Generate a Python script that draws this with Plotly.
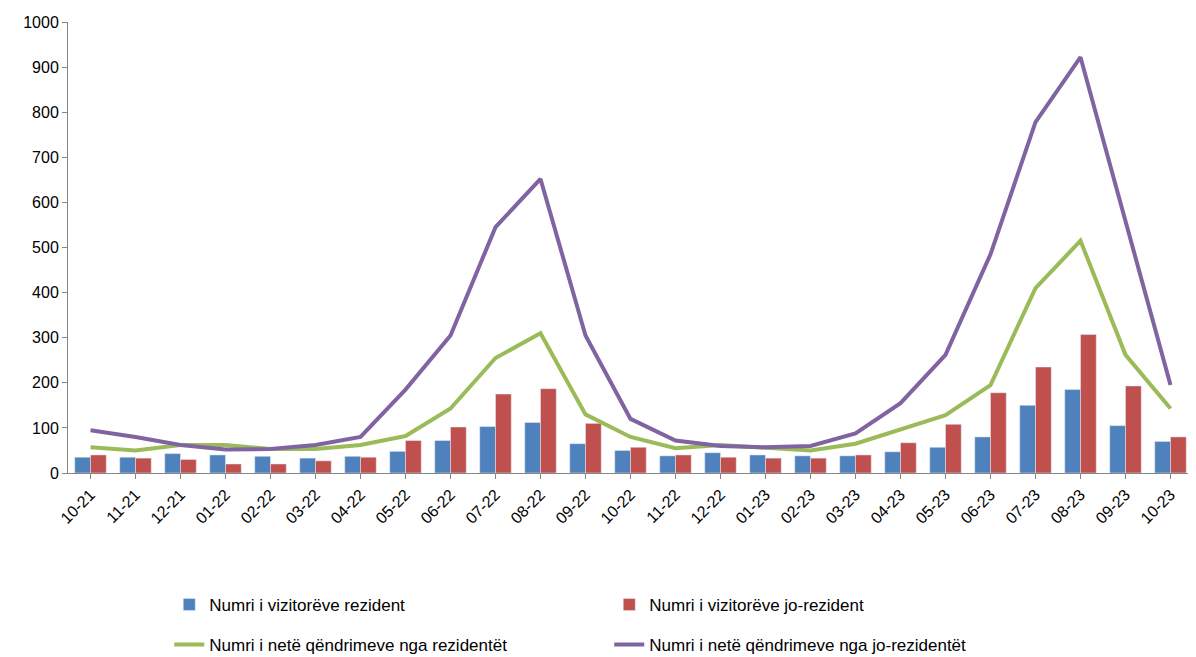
import plotly.graph_objects as go

months = ["10-21", "11-21", "12-21", "01-22", "02-22", "03-22", "04-22", "05-22", "06-22",
          "07-22", "08-22", "09-22", "10-22", "11-22", "12-22", "01-23", "02-23", "03-23",
          "04-23", "05-23", "06-23", "07-23", "08-23", "09-23", "10-23"]
vizitore_rezident = [35, 35, 43, 40, 37, 33, 37, 48, 72, 103, 112, 65, 50, 38, 45, 40, 38, 38,
                     47, 57, 80, 150, 185, 105, 70]
vizitore_jorezident = [40, 33, 30, 20, 20, 27, 35, 72, 102, 175, 187, 110, 57, 40, 35, 33, 33, 40,
                       67, 108, 178, 235, 307, 193, 80]
net_rezident = [57, 50, 62, 62, 53, 53, 62, 82, 143, 255, 310, 130, 80, 55, 62, 57, 50, 65,
                97, 128, 195, 410, 515, 262, 143]
net_jorezident = [95, 80, 62, 52, 53, 62, 80, 185, 305, 545, 652, 305, 120, 72, 60, 57, 60, 88,
                  155, 262, 485, 778, 922, 555, 195]

fig = go.Figure()
fig.add_trace(go.Bar(x=months, y=vizitore_rezident, name="Numri i vizitorëve rezident",
                     marker_color="#4F81BD", legend="legend"))
fig.add_trace(go.Bar(x=months, y=vizitore_jorezident, name="Numri i vizitorëve jo-rezident",
                     marker_color="#C0504D", legend="legend"))
fig.add_trace(go.Scatter(x=months, y=net_rezident, name="Numri i netë qëndrimeve nga rezidentët",
                         mode="lines", line=dict(color="#9BBB59", width=4), legend="legend2"))
fig.add_trace(go.Scatter(x=months, y=net_jorezident, name="Numri i netë qëndrimeve nga jo-rezidentët",
                         mode="lines", line=dict(color="#8064A2", width=4), legend="legend2"))

leg = dict(orientation="h", x=0.09, xanchor="left", yanchor="middle", yref="container",
           entrywidth=395, entrywidthmode="pixels", font=dict(size=17), bgcolor="rgba(0,0,0,0)")
fig.update_layout(
    width=1196, height=657,
    plot_bgcolor="white", paper_bgcolor="white",
    font=dict(family="Liberation Sans, Arial", size=16, color="black"),
    margin=dict(l=60, r=11, t=14, b=192, autoexpand=False),
    bargap=0.3, bargroupgap=0,
    showlegend=True,
    legend=dict(leg, y=1 - 597 / 657),
    legend2=dict(leg, y=1 - 637 / 657),
)
fig.update_xaxes(tickangle=-45, showline=True, linecolor="#868686", ticks="outside",
                 tickcolor="#868686", showgrid=False, tickfont=dict(size=16))
fig.update_yaxes(range=[0, 1000], dtick=100, showline=True, linecolor="#868686",
                 ticks="outside", tickcolor="#868686", showgrid=False, zeroline=False,
                 tickfont=dict(size=16))

fig.write_html("out.html")
